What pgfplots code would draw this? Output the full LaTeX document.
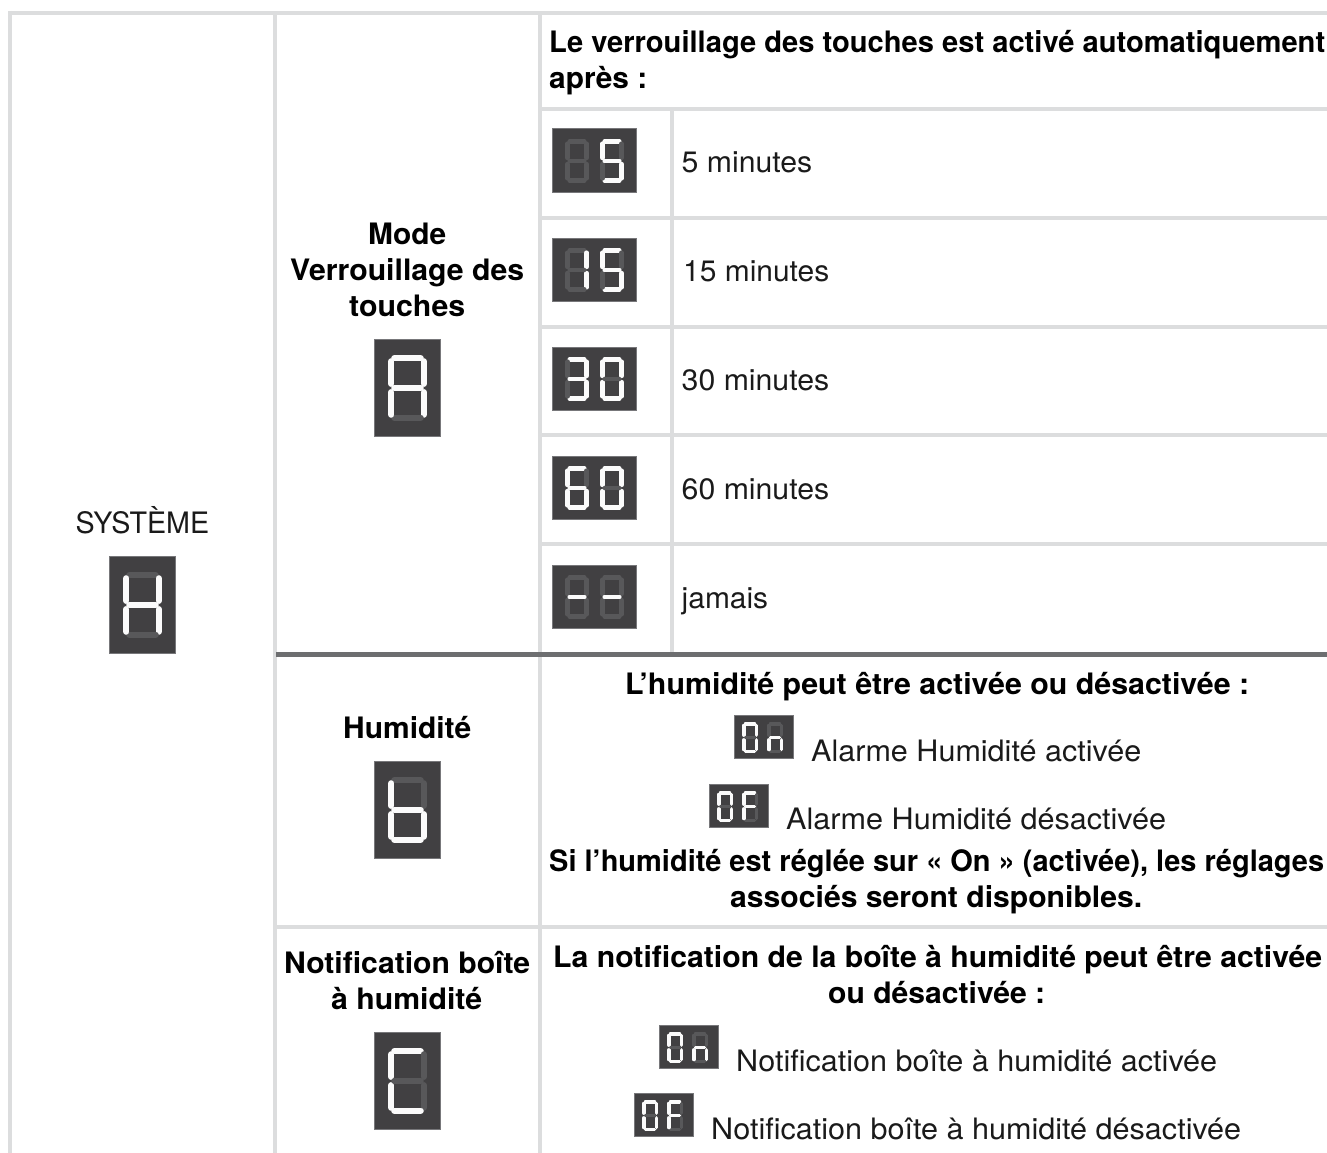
\documentclass[border=0pt]{standalone}
\usepackage{fontspec}
\setmainfont{TeX Gyre Heros}
\usepackage{graphicx}
\usepackage{pgfplots}
\pgfplotsset{compat=1.18}
\definecolor{rulec}{HTML}{DCDDDE}
\definecolor{darkrule}{HTML}{6D6E70}
\definecolor{boxc}{HTML}{414042}
\definecolor{boxe}{HTML}{77777A}
\definecolor{unlit}{HTML}{58585A}
\definecolor{lit}{HTML}{FBFBFB}
\definecolor{txt}{HTML}{1A1A1A}
% rule: colour, width, x1 y1 x2 y2
\newcommand{\rul}[6]{\addplot[draw=#1,line width=#2pt,forget plot] coordinates {(#3,#4)(#5,#6)};}
% text: x-left x-right baseline text
\newcommand{\RT}[4]{%
  \node[anchor=base west,inner sep=0pt,text=txt,font=\fontsize{29.5}{32}\selectfont] at (axis cs:#1,#3) {\resizebox{\dimexpr #2pt-#1pt\relax}{\height}{#4}};}
\newcommand{\BT}[4]{%
  \node[anchor=base west,inner sep=0pt,text=black,font=\fontsize{29.5}{32}\selectfont\bfseries] at (axis cs:#1,#3) {\resizebox{\dimexpr #2pt-#1pt\relax}{\height}{#4}};}
% segment: bit thickness x1 y1 x2 y2
\newcommand{\Seg}[6]{%
  \if#11\def\segc{lit}\else\def\segc{unlit}\fi
  \pgfmathsetmacro\sxa{#3}\pgfmathsetmacro\sya{#4}\pgfmathsetmacro\sxb{#5}\pgfmathsetmacro\syb{#6}%
  \edef\tmp{\noexpand\addplot[draw=\segc,line width=#2pt,line cap=round,forget plot] coordinates {(\sxa,\sya)(\sxb,\syb)};}\tmp}
\def\setbits#1#2#3#4#5#6#7{\def\bitA{#1}\def\bitB{#2}\def\bitC{#3}\def\bitD{#4}\def\bitE{#5}\def\bitF{#6}\def\bitG{#7}}
% digit: x y w h t bits
\newcommand{\Dig}[6]{%
  \setbits#6%
  \def\dx{#1}\def\dy{#2}\def\dw{#3}\def\dh{#4}\def\dt{#5}%
  \Seg{\bitA}{\dt}{\dx+\dt}{\dy+\dt/2}{\dx+\dw-\dt}{\dy+\dt/2}%
  \Seg{\bitB}{\dt}{\dx+\dw-\dt/2}{\dy+\dt}{\dx+\dw-\dt/2}{\dy+\dh/2-\dt/1.5}%
  \Seg{\bitC}{\dt}{\dx+\dw-\dt/2}{\dy+\dh/2+\dt/1.5}{\dx+\dw-\dt/2}{\dy+\dh-\dt}%
  \Seg{\bitD}{\dt}{\dx+\dt}{\dy+\dh-\dt/2}{\dx+\dw-\dt}{\dy+\dh-\dt/2}%
  \Seg{\bitE}{\dt}{\dx+\dt/2}{\dy+\dh/2+\dt/1.5}{\dx+\dt/2}{\dy+\dh-\dt}%
  \Seg{\bitF}{\dt}{\dx+\dt/2}{\dy+\dt}{\dx+\dt/2}{\dy+\dh/2-\dt/1.5}%
  \Seg{\bitG}{\dt}{\dx+\dt}{\dy+\dh/2}{\dx+\dw-\dt}{\dy+\dh/2}}
% box: x1 y1 x2 y2
\newcommand{\Bx}[4]{\addplot[fill=boxc,draw=boxe,line width=1pt,forget plot] coordinates {(#1,#2)(#3,#2)(#3,#4)(#1,#4)} -- cycle;}
% two-digit wide box: x y left right bits
\newcommand{\TwoD}[4]{%
  \pgfmathsetmacro\qx{#1+84.5}\pgfmathsetmacro\qy{#2+63.5}\edef\tmpb{\noexpand\Bx{#1}{#2}{\qx}{\qy}}\tmpb
  \pgfmathsetmacro\px{#1+13}\pgfmathsetmacro\py{#2+10}\pgfmathsetmacro\pz{#1+48}%
  \edef\tmpc{\noexpand\Dig{\px}{\py}{24}{44}{4.8}{#3}\noexpand\Dig{\pz}{\py}{24}{44}{4.8}{#4}}\tmpc}
\newcommand{\SmallD}[4]{%
  \pgfmathsetmacro\qx{#1+59.5}\pgfmathsetmacro\qy{#2+43.5}\edef\tmpb{\noexpand\Bx{#1}{#2}{\qx}{\qy}}\tmpb
  \pgfmathsetmacro\px{#1+8}\pgfmathsetmacro\py{#2+7}\pgfmathsetmacro\pz{#1+33}%
  \edef\tmpc{\noexpand\Dig{\px}{\py}{16}{31}{3.5}{#3}\noexpand\Dig{\pz}{\py}{16}{31}{3.5}{#4}}\tmpc}
\newcommand{\BigD}[3]{%
  \pgfmathsetmacro\qx{#1+66.5}\pgfmathsetmacro\qy{#2+97.5}\edef\tmpb{\noexpand\Bx{#1}{#2}{\qx}{\qy}}\tmpb
  \pgfmathsetmacro\px{#1+14}\pgfmathsetmacro\py{#2+16}%
  \edef\tmpc{\noexpand\Dig{\px}{\py}{39}{66}{6.4}{#3}}\tmpc}
\begin{document}
\begin{tikzpicture}
\path[use as bounding box] (0,0) rectangle (1327pt,1153pt);
\begin{axis}[at={(0,0)},anchor=south west,scale only axis,width=1327pt,height=1153pt,
  xmin=0,xmax=1327,ymin=0,ymax=1153,y dir=reverse,hide axis,clip=true]
% rules
\rul{rulec}{4.5}{8}{13}{1327}{13}
\rul{rulec}{4}{10}{11}{10}{1153}
\rul{rulec}{4}{275}{13}{275}{1153}
\rul{rulec}{4}{539.5}{13}{539.5}{1153}
\rul{rulec}{4}{540}{109}{1327}{109}
\rul{rulec}{4}{540}{217.5}{1327}{217.5}
\rul{rulec}{4}{540}{326.5}{1327}{326.5}
\rul{rulec}{4}{540}{435}{1327}{435}
\rul{rulec}{4}{540}{544}{1327}{544}
\rul{rulec}{3.5}{672}{109}{672}{652}
\rul{darkrule}{5}{276}{654}{1327}{654}
\rul{rulec}{4}{276}{927}{1327}{927}
% displays
\TwoD{552}{129}{0000000}{1011011}
\TwoD{552}{238}{0110000}{1011011}
\TwoD{552}{347}{1111001}{1111110}
\TwoD{552}{456}{1011111}{1111110}
\TwoD{552}{565}{0000001}{0000001}
\BigD{109}{556}{0110111}
\BigD{374}{339}{1110111}
\BigD{374}{761}{0011111}
\BigD{374}{1032}{1001110}
\SmallD{734}{715}{1111110}{0010101}
\SmallD{709}{784}{1111110}{1000111}
\SmallD{659}{1025}{1111110}{0010101}
\SmallD{634}{1093}{1111110}{1000111}
% text
\RT{75.5}{209}{533}{SYSTÈME}
\BT{368}{446}{244}{Mode}
\BT{290}{524}{280}{Verrouillage des}
\BT{349}{465}{316}{touches}
\BT{343}{471}{738}{Humidité}
\BT{284}{530}{973}{Notification boîte}
\BT{331}{482}{1009}{à humidité}
\BT{549}{1325}{53}{Le verrouillage des touches est activé automatiquement}
\BT{549}{647}{89}{après :}
\RT{681.5}{812}{172}{5 minutes}
\RT{683}{829}{281}{15 minutes}
\RT{681.5}{829}{390}{30 minutes}
\RT{681.5}{829}{499}{60 minutes}
\RT{681.5}{768}{608}{jamais}
\BT{625}{1249}{694}{L’humidité peut être activée ou désactivée :}
\RT{811}{1141}{761}{Alarme Humidité activée}
\RT{786}{1166}{829}{Alarme Humidité désactivée}
\BT{549}{1324}{871}{Si l’humidité est réglée sur « On » (activée), les réglages}
\BT{730}{1142}{907}{associés seront disponibles.}
\BT{553}{1322}{967}{La notification de la boîte à humidité peut être activée}
\BT{828}{1045}{1003}{ou désactivée :}
\RT{736}{1217}{1071}{Notification boîte à humidité activée}
\RT{711}{1241}{1139}{Notification boîte à humidité désactivée}
\end{axis}
\end{tikzpicture}
\end{document}
